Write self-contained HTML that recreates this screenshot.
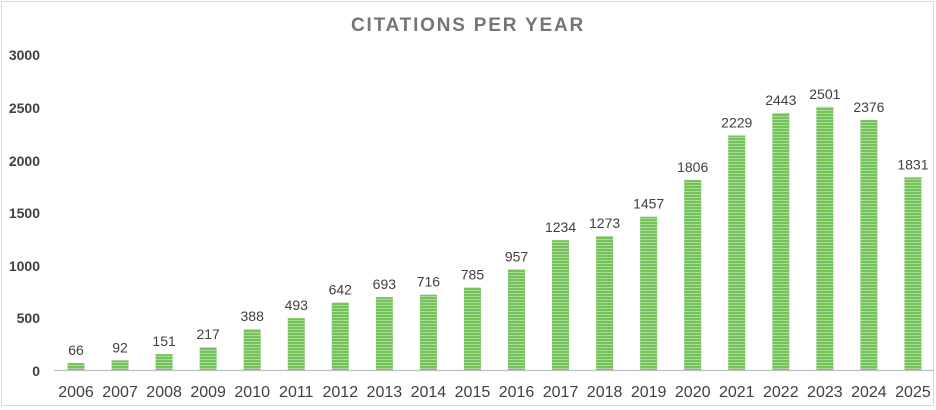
<!DOCTYPE html>
<html><head><meta charset="utf-8"><style>
body{margin:0;background:#fff;}
svg{display:block;font-family:"Liberation Sans",sans-serif;}
</style></head><body>
<svg width="936" height="410" viewBox="0 0 936 410" xmlns="http://www.w3.org/2000/svg">
<defs>
<pattern id="p" width="4" height="3" patternUnits="userSpaceOnUse">
<rect width="4" height="3" fill="#74c35a"/>
<rect y="2" width="4" height="1" fill="#a9da97"/>
</pattern>
</defs>
<rect x="1.5" y="1.5" width="932" height="404" fill="#fff" stroke="#d9d9d9"/>
<text x="468" y="31" text-anchor="middle" font-size="19" font-weight="bold" fill="#757575" letter-spacing="1.8">CITATIONS PER YEAR</text>
<g font-size="14" font-weight="bold" fill="#404040" text-anchor="end">
<text x="40" y="376">0</text>
<text x="40" y="323">500</text>
<text x="40" y="271">1000</text>
<text x="40" y="218">1500</text>
<text x="40" y="166">2000</text>
<text x="40" y="113">2500</text>
<text x="40" y="60">3000</text>
</g>
<line x1="54" y1="370.5" x2="934" y2="370.5" stroke="#bfbfbf" stroke-width="1.2"/>
<g id="bars"></g>
</svg>
<script>
var d=[66,92,151,217,388,493,642,693,716,785,957,1234,1273,1457,1806,2229,2443,2501,2376,1831];
var g=document.getElementById('bars'),s='';
for(var i=0;i<d.length;i++){
var cx=76+i*44.05,h=d[i]*0.1052,y=370-h;
s+='<rect x="'+(cx-8.5)+'" y="'+y+'" width="17" height="'+h+'" fill="url(#p)"/>';
s+='<text x="'+cx+'" y="'+(y-8)+'" text-anchor="middle" font-size="14" fill="#404040">'+d[i]+'</text>';
s+='<text x="'+cx+'" y="397" text-anchor="middle" font-size="16" fill="#404040">'+(2006+i)+'</text>';
}
g.innerHTML=s;
</script>
</body></html>
